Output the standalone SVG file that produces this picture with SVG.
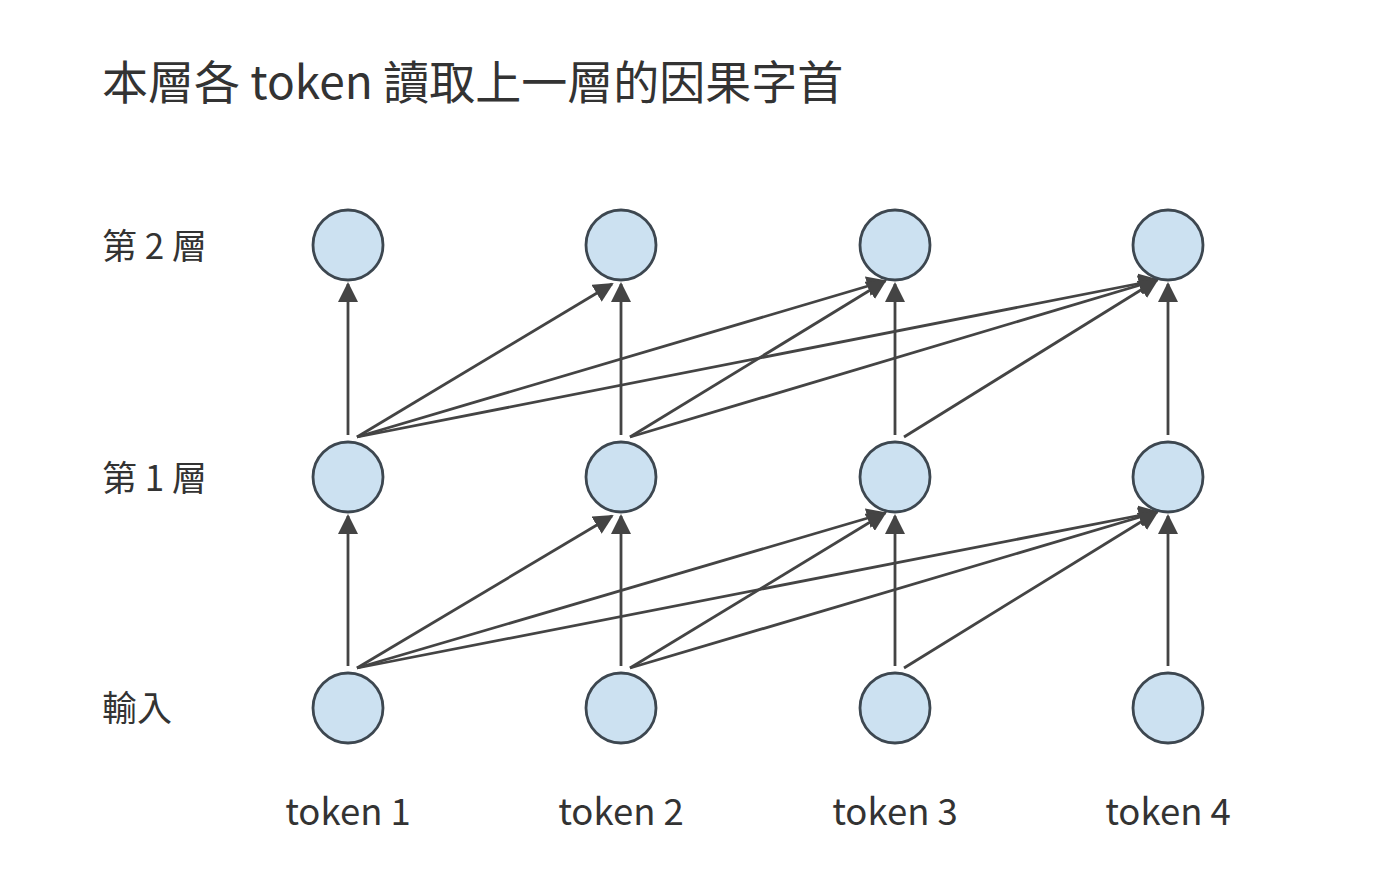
<svg xmlns="http://www.w3.org/2000/svg" width="1400" height="888" viewBox="0 0 1400 888">
<style>
text{font-family:"Source Sans Pro","Noto Sans CJK TC","Noto Sans",sans-serif;fill:#333}
.t{font-size:46px}.l{font-size:35px}.k{font-size:36.5px;text-anchor:middle}
.n{fill:#cce1f1;stroke:#3d4750;stroke-width:2.8}
.e{stroke:#444;stroke-width:2.8;fill:none}
</style>
<defs>
<marker id="a2" viewBox="0 0 10 10" refX="9" refY="5" markerWidth="20" markerHeight="20" orient="auto" markerUnits="userSpaceOnUse"><path d="M0,0L10,5L0,10z" fill="#444"/></marker></defs>
<rect width="1400" height="888" fill="#fff"/>
<text x="102" y="99" class="t">本層各 token 讀取上一層的因果字首</text>
<text x="102" y="259" class="l">第 2 層</text>
<text x="102" y="491" class="l">第 1 層</text>
<text x="102" y="721" class="l">輸入</text>
<text x="348" y="825" class="k">token 1</text>
<text x="621" y="825" class="k">token 2</text>
<text x="895" y="825" class="k">token 3</text>
<text x="1168" y="825" class="k">token 4</text>
<g id="edges">
<g class="e" style="marker-end:url(#a2)">
<line x1="348" y1="666" x2="348" y2="516"/>
<line x1="357" y1="668" x2="612" y2="516"/>
<line x1="357" y1="668" x2="885" y2="513"/>
<line x1="357" y1="668" x2="1157" y2="512"/>
<line x1="621" y1="666" x2="621" y2="516"/>
<line x1="630" y1="668" x2="885" y2="513"/>
<line x1="630" y1="668" x2="1157" y2="512"/>
<line x1="895" y1="666" x2="895" y2="516"/>
<line x1="904" y1="668" x2="1157" y2="512"/>
<line x1="1168" y1="666" x2="1168" y2="516"/>
<line x1="348" y1="435" x2="348" y2="284"/>
<line x1="357" y1="437" x2="612" y2="284"/>
<line x1="357" y1="437" x2="885" y2="281"/>
<line x1="357" y1="437" x2="1157" y2="280"/>
<line x1="621" y1="435" x2="621" y2="284"/>
<line x1="630" y1="437" x2="885" y2="281"/>
<line x1="630" y1="437" x2="1157" y2="280"/>
<line x1="895" y1="435" x2="895" y2="284"/>
<line x1="904" y1="437" x2="1157" y2="280"/>
<line x1="1168" y1="435" x2="1168" y2="284"/>
</g></g>
<g id="n20"><circle class="n" cx="348" cy="245" r="35"/></g>
<g id="n21"><circle class="n" cx="621" cy="245" r="35"/></g>
<g id="n22"><circle class="n" cx="895" cy="245" r="35"/></g>
<g id="n23"><circle class="n" cx="1168" cy="245" r="35"/></g>
<g id="n10"><circle class="n" cx="348" cy="477" r="35"/></g>
<g id="n11"><circle class="n" cx="621" cy="477" r="35"/></g>
<g id="n12"><circle class="n" cx="895" cy="477" r="35"/></g>
<g id="n13"><circle class="n" cx="1168" cy="477" r="35"/></g>
<g id="n00"><circle class="n" cx="348" cy="708" r="35"/></g>
<g id="n01"><circle class="n" cx="621" cy="708" r="35"/></g>
<g id="n02"><circle class="n" cx="895" cy="708" r="35"/></g>
<g id="n03"><circle class="n" cx="1168" cy="708" r="35"/></g>
</svg>
